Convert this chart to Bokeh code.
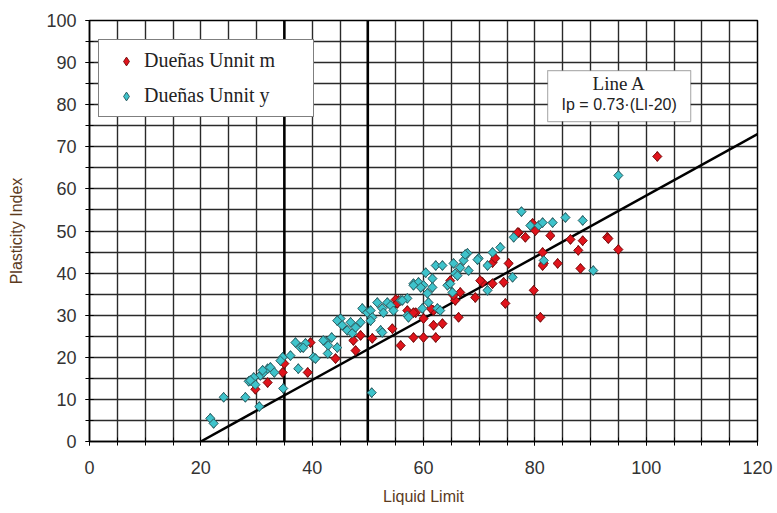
import numpy as np
from bokeh.plotting import figure
from bokeh.models import FixedTicker, Span, Legend, LegendItem, Label, BoxAnnotation, Range1d
from bokeh.embed import file_html
from bokeh.resources import INLINE

# Dueñas Unnit m (red)
m_ll = [29.8, 32.0, 34.7, 35.0, 39.2, 39.7, 44.2, 47.4, 47.8, 48.7,
        50.8, 55.5, 55.9, 57.1, 58.2, 58.6, 60.0, 60.0, 61.8, 62.2,
        61.8, 63.4, 66.3, 65.7, 66.6, 69.3, 70.6, 72.4, 72.4, 72.9,
        74.4, 74.7, 75.3, 77.1, 78.3, 80.1, 79.8, 81.0, 81.4, 82.8,
        84.1, 86.4, 88.6, 93.0, 93.2, 95.0, 87.8, 81.6, 88.2, 102.0,
        70.2, 64.8, 65.4, 54.4, 55.0, 55.3, 58.2, 61.3, 79.6, 81.4,
        76.9]
m_pi = [12.4, 14.0, 16.4, 18.5, 16.4, 23.5, 19.7, 24.0, 21.6, 25.2,
        24.5, 33.5, 22.8, 31.1, 24.7, 30.6, 29.2, 24.7, 31.1, 24.7,
        27.6, 28.0, 29.5, 33.5, 35.4, 34.2, 37.8, 37.5, 42.5, 43.5,
        37.8, 32.8, 42.3, 49.6, 48.5, 50.1, 35.9, 29.5, 44.9, 48.9,
        42.3, 48.0, 47.7, 48.5, 48.2, 45.6, 45.4, 42.3, 41.1, 67.7,
        38.2, 38.2, 34.7, 26.8, 33.7, 32.8, 30.6, 31.6, 51.8, 41.8,
        49.6]

# Dueñas Unnit y (cyan)
y_ll = [21.7, 22.3, 24.1, 28.0, 30.5, 28.6, 29.8, 30.7, 31.3, 32.0,
        32.5, 33.2, 34.8, 34.7, 36.1, 37.5, 37.0, 37.9, 38.8, 40.2,
        42.4, 42.9, 43.5, 42.8, 44.5, 45.1, 45.4, 46.3, 46.9, 47.2,
        47.8, 48.7, 49.0, 49.9, 50.5, 50.8, 51.7, 52.6, 52.3, 53.5,
        54.1, 54.6, 55.9, 57.1, 57.1, 58.2, 59.1, 60.0, 60.4, 60.7,
        60.9, 59.8, 62.2, 62.5, 61.6, 63.4, 65.4, 65.7, 66.6, 67.2,
        67.9, 68.1, 69.9, 71.5, 72.4, 73.8, 76.0, 76.2, 79.2, 80.7,
        81.4, 81.6, 64.3, 65.2, 66.1, 71.5, 63.0, 83.2, 85.5, 88.6,
        90.5, 95.0, 50.7, 77.6, 58.2, 59.5, 61.6, 64.8, 56.2, 52.8,
        57.3, 52.6, 69.7, 67.5, 38.4, 34.3, 29.5, 28.9, 42.0, 44.5,
        50.5, 40.6, 31.1]
y_pi = [5.5, 4.3, 10.5, 10.5, 8.3, 14.3, 13.5, 15.7, 16.4, 17.3,
        17.6, 16.4, 12.6, 20.0, 20.4, 17.3, 23.5, 22.3, 23.3, 20.0,
        23.8, 22.8, 24.7, 20.9, 22.3, 29.2, 27.6, 26.4, 28.3, 25.7,
        27.1, 28.3, 31.6, 30.6, 31.1, 29.5, 33.0, 31.6, 26.4, 33.0,
        32.3, 31.1, 33.5, 34.0, 29.9, 37.5, 37.8, 37.1, 40.1, 35.2,
        33.0, 31.6, 41.8, 31.6, 38.7, 41.8, 42.3, 39.9, 41.3, 43.0,
        44.7, 40.6, 43.5, 41.8, 44.9, 46.1, 39.0, 48.5, 51.3, 51.3,
        52.0, 43.0, 37.1, 35.4, 39.4, 35.9, 31.1, 52.0, 53.2, 52.5,
        40.6, 63.2, 11.6, 54.6, 37.1, 36.6, 36.6, 37.5, 33.5, 30.6,
        29.5, 25.9, 43.2, 44.4, 22.3, 19.2, 15.2, 14.5, 24.0, 28.7,
        28.7, 19.7, 16.9]

# Line A: Ip = 0.73 (LL - 20)
lineA_ll = [20, 120]
lineA_pi = [0, 73]
ll_limits = [35, 50]

x_ticks = [0, 20, 40, 60, 80, 100, 120]
y_ticks = [0, 10, 20, 30, 40, 50, 60, 70, 80, 90, 100]
x_grid = list(range(0, 121, 5))
y_grid = list(range(0, 101, 5))

RED, RED_EDGE = "#e0141c", "#7a1010"
CYAN, CYAN_EDGE = "#3ec3cb", "#2d5f63"

p = figure(frame_width=668, frame_height=421,
           min_border_left=89, min_border_right=20, min_border_top=20, min_border_bottom=72,
           x_range=Range1d(0, 120), y_range=Range1d(0, 100),
           output_backend="svg", toolbar_location=None)
p.background_fill_color = "white"
p.border_fill_color = "white"
p.outline_line_color = "black"
p.outline_line_width = 1.5

for g in (p.xgrid, p.ygrid):
    g.grid_line_color = "#2a2a2a"
    g.grid_line_width = 1.4
p.xgrid.ticker = FixedTicker(ticks=x_grid)
p.ygrid.ticker = FixedTicker(ticks=y_grid)

p.xaxis.ticker = FixedTicker(ticks=x_ticks, minor_ticks=x_grid)
p.yaxis.ticker = FixedTicker(ticks=y_ticks, minor_ticks=y_grid)
for ax in (p.xaxis, p.yaxis):
    ax.axis_line_color = "black"
    ax.axis_line_width = 1.5
    ax.major_tick_line_color = "black"
    ax.minor_tick_line_color = "black"
    ax.major_tick_in = 4
    ax.major_tick_out = 4
    ax.minor_tick_in = 4
    ax.minor_tick_out = 4
    ax.major_label_text_font = "Liberation Sans"
    ax.major_label_text_font_size = "18px"
    ax.major_label_text_color = "#333333"
    ax.axis_label_text_font = "Liberation Sans"
    ax.axis_label_text_font_size = "16px"
    ax.axis_label_text_font_style = "normal"
    ax.axis_label_text_color = "#5c3b1e"
p.xaxis.axis_label = "Liquid Limit"
p.yaxis.axis_label = "Plasticity Index"
p.xaxis.major_label_standoff = 15
p.yaxis.major_label_standoff = 9
p.xaxis.axis_label_standoff = 11
p.yaxis.axis_label_standoff = 18

for loc in ll_limits:
    p.add_layout(Span(location=loc, dimension="height", line_color="black", line_width=2.5, level="underlay"))

p.line(lineA_ll, lineA_pi, line_color="black", line_width=2.5)

# diamond swatches for the legend, hidden beneath the rotated-square markers
leg_m = p.scatter(m_ll, m_pi, marker="diamond", size=10, fill_color=RED, line_color=RED_EDGE, line_width=1)
leg_y = p.scatter(y_ll, y_pi, marker="diamond", size=10, fill_color=CYAN, line_color=CYAN_EDGE, line_width=1)

p.scatter(m_ll, m_pi, marker="square", angle=np.pi / 4, size=6.5,
          fill_color=RED, line_color=RED_EDGE, line_width=1)
p.scatter(y_ll, y_pi, marker="square", angle=np.pi / 4, size=6.5,
          fill_color=CYAN, line_color=CYAN_EDGE, line_width=1)

legend = Legend(items=[LegendItem(label="Dueñas Unnit m", renderers=[leg_m]),
                       LegendItem(label="Dueñas Unnit y", renderers=[leg_y])],
                location=(9, 324), padding=9, spacing=12, label_height=22,
                glyph_width=36, glyph_height=22, label_standoff=0, label_width=160,
                margin=0, border_line_color="black", border_line_width=1.2,
                background_fill_color="white", background_fill_alpha=1.0,
                label_text_font="Liberation Serif", label_text_font_size="20px",
                label_text_color="#222222")
p.add_layout(legend)

p.add_layout(BoxAnnotation(left=82.3, right=108.0, bottom=76.0, top=88.1,
                           fill_color="white", fill_alpha=1.0,
                           line_color="black", line_width=1.2))
p.add_layout(Label(x=95.15, y=85.0, text="Line A", text_align="center", text_baseline="middle",
                   text_font="Liberation Serif", text_font_size="19px", text_color="#222222"))
p.add_layout(Label(x=95.15, y=80.0, text="Ip = 0.73·(LI-20)", text_align="center", text_baseline="middle",
                   text_font="Liberation Sans Narrow, Liberation Sans", text_font_size="16px",
                   text_color="#222222"))

open("out.html", "w").write(file_html(p, INLINE))
